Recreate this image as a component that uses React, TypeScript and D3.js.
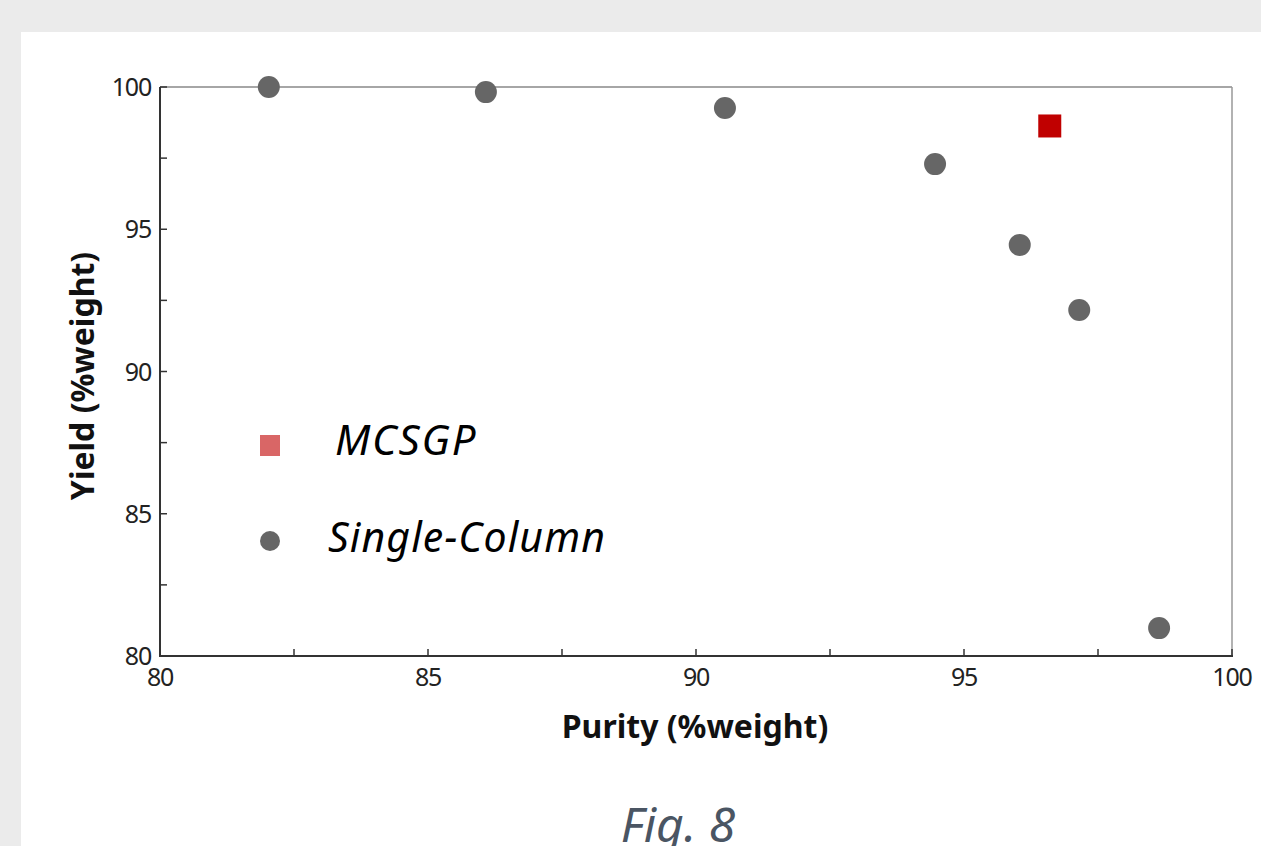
import React from "react";
import * as d3 from "d3";

const singlePurity = [82.03, 86.08, 90.54, 94.46, 96.04, 97.15, 98.64];
const singleYield = [100.0, 99.82, 99.26, 97.29, 94.45, 92.16, 80.98];
const mcsgpPurity = [96.6];
const mcsgpYield = [98.63];
const xMajorTicks = [80, 85, 90, 95, 100];
const xMinorTicks = [82.5, 87.5, 92.5, 97.5];
const yMajorTicks = [80, 85, 90, 95, 100];
const yMinorTicks = [82.5, 87.5, 92.5, 97.5];
const legendLabels = ["MCSGP", "Single-Column"];

export default function App() {
  const W = 1261, H = 846;
  const L = 160, R = 1232, T = 87, B = 656;
  const x = d3.scaleLinear().domain([80, 100]).range([L, R]);
  const y = d3.scaleLinear().domain([80, 100]).range([B, T]);
  const font = "'Noto Sans', 'Open Sans', sans-serif";
  return (
    <svg width={W} height={H} style={{ position: "absolute", left: 0, top: 0 }}>
      <rect x={0} y={0} width={W} height={H} fill="#ebebeb" />
      <rect x={21} y={32} width={W - 21} height={H - 32} fill="#ffffff" />
      <line x1={L} y1={T} x2={R} y2={T} stroke="#888" strokeWidth={1.5} />
      <line x1={R} y1={T} x2={R} y2={B} stroke="#999" strokeWidth={1.5} />
      <line x1={L} y1={T} x2={L} y2={B + 1} stroke="#333" strokeWidth={2} />
      <line x1={L - 1} y1={B} x2={R + 1} y2={B} stroke="#333" strokeWidth={2} />
      {yMajorTicks.concat(yMinorTicks).map((v, i) => (
        <line key={"yt" + i} x1={L} x2={L + 7} y1={y(v)} y2={y(v)} stroke="#333" strokeWidth={1.5} />
      ))}
      {xMajorTicks.concat(xMinorTicks).map((v, i) => (
        <line key={"xt" + i} x1={x(v)} x2={x(v)} y1={B} y2={B - 7} stroke="#333" strokeWidth={1.5} />
      ))}
      {yMajorTicks.map((v) => (
        <text key={"yl" + v} x={L - 9} y={y(v) + 9} textAnchor="end" fontFamily={font} fontSize={25} letterSpacing={-1.2} fill="#222">
          {v}
        </text>
      ))}
      {xMajorTicks.map((v) => (
        <text key={"xl" + v} x={x(v)} y={B + 30} textAnchor="middle" fontFamily={font} fontSize={25} letterSpacing={-1.2} fill="#222">
          {v}
        </text>
      ))}
      <text x={695} y={738} textAnchor="middle" fontFamily={font} fontSize={32} fontWeight="bold" fill="#111">
        Purity (%weight)
      </text>
      <text transform="translate(94,376) rotate(-90)" textAnchor="middle" fontFamily={font} fontSize={32} fontWeight="bold" fill="#111">
        Yield (%weight)
      </text>
      {singlePurity.map((p, i) => (
        <circle key={"s" + i} cx={x(p)} cy={y(singleYield[i])} r={11} fill="#666666" />
      ))}
      {mcsgpPurity.map((p, i) => (
        <rect key={"m" + i} x={x(p) - 11.5} y={y(mcsgpYield[i]) - 11.5} width={23} height={23} fill="#c00000" />
      ))}
      <rect x={260} y={435} width={20} height={21} fill="#d96666" />
      <text x={335} y={455} fontFamily={font} fontStyle="italic" fontSize={42} letterSpacing={1.8} fill="#000">
        {legendLabels[0]}
      </text>
      <circle cx={270} cy={541} r={10} fill="#666666" />
      <text x={328} y={552} fontFamily={font} fontStyle="italic" fontSize={41} letterSpacing={1.1} fill="#000">
        {legendLabels[1]}
      </text>
      <text x={678} y={842} textAnchor="middle" fontFamily={font} fontStyle="italic" fontSize={48} fill="#4a5563">
        Fig. 8
      </text>
    </svg>
  );
}
